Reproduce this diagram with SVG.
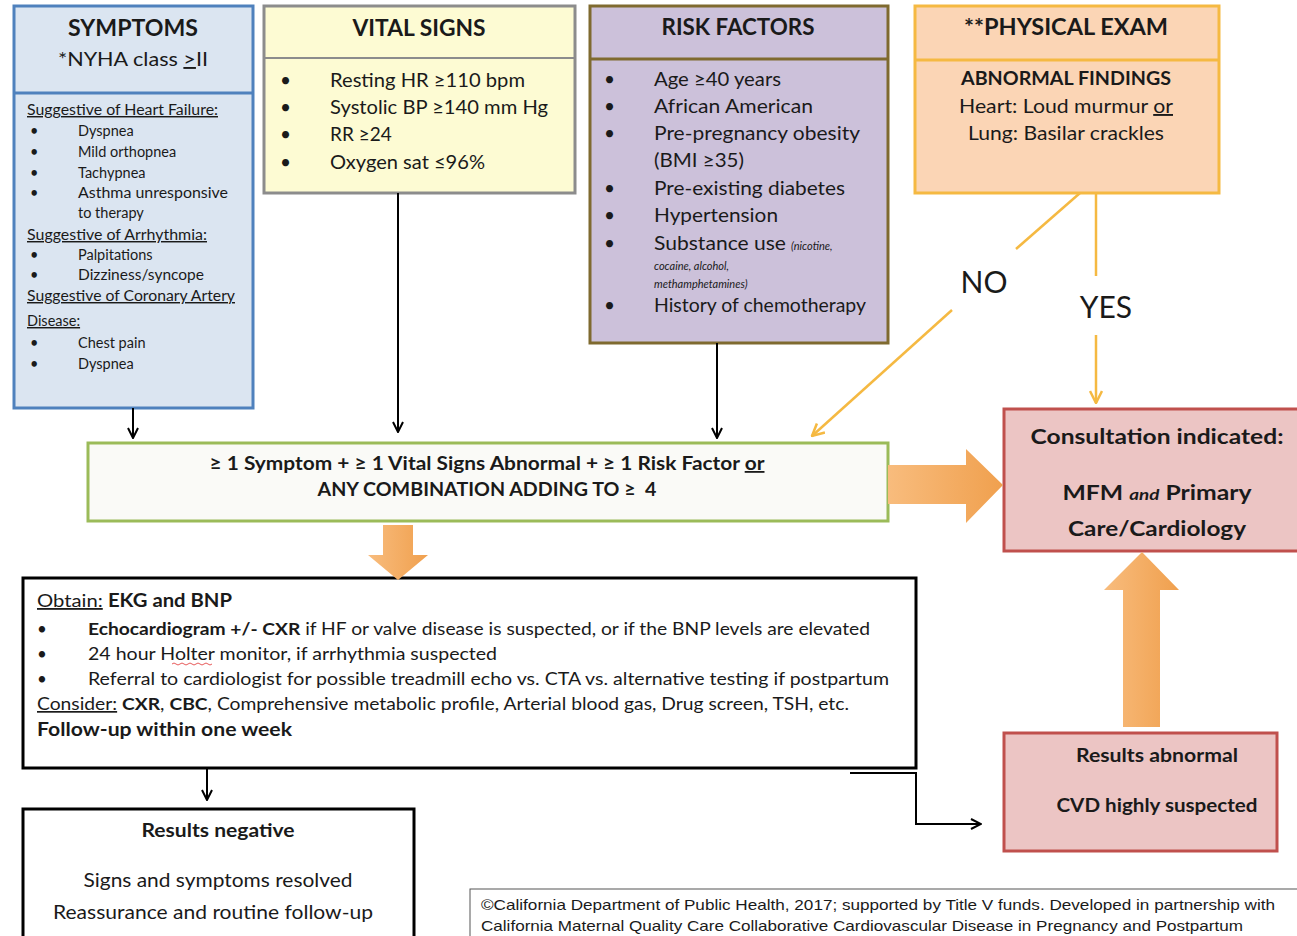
<svg xmlns="http://www.w3.org/2000/svg" width="1297" height="936" viewBox="0 0 1297 936">
<style>
text{font-family:Lato,"Open Sans","Liberation Sans",sans-serif;fill:#1a1a1a}
text.ar{font-family:"Liberation Sans",Arial,sans-serif;font-size:14.5px}
.b{font-weight:bold}
.u{text-decoration:underline}
.t{font-size:22px;font-weight:bold;text-anchor:middle}
.s{font-size:14.5px}
.v{font-size:19px}
.m{font-size:17px}
.c{text-anchor:middle}
.ln{fill:none;stroke:#000;stroke-width:2}
.yl{fill:none;stroke:#f5b942;stroke-width:2.5}
</style>
<defs>
<marker id="ab" viewBox="0 0 12 12" refX="11" refY="6" markerWidth="12" markerHeight="12" markerUnits="userSpaceOnUse" orient="auto"><path d="M1,1 L11,6 L1,11" fill="none" stroke="#000" stroke-width="2"/></marker>
<marker id="ay" viewBox="0 0 14 14" refX="13" refY="7" markerWidth="14" markerHeight="14" markerUnits="userSpaceOnUse" orient="auto"><path d="M1,1 L13,7 L1,13" fill="none" stroke="#f5b942" stroke-width="2.5"/></marker>
<linearGradient id="og" x1="0" y1="0" x2="1" y2="0"><stop offset="0" stop-color="#f8bc7d"/><stop offset="1" stop-color="#f0a04e"/></linearGradient>
</defs>

<g id="symptoms">
<rect x="14" y="6" width="239" height="402" fill="#dbe5f1" stroke="#4f81bd" stroke-width="3"/>
<line x1="14" y1="93" x2="253" y2="93" stroke="#4f81bd" stroke-width="3"/>
<text x="133" y="36" class="t" textLength="130" lengthAdjust="spacingAndGlyphs">SYMPTOMS</text>
<text x="133" y="66" class="c" font-size="19" textLength="150" lengthAdjust="spacingAndGlyphs">*NYHA class  <tspan class="u">&gt;</tspan>II</text>
<text x="27" y="115" class="s u" textLength="191" lengthAdjust="spacingAndGlyphs">Suggestive of Heart Failure:</text>
<text x="30" y="136" class="s">•</text><text x="78" y="136" class="s">Dyspnea</text>
<text x="30" y="157" class="s">•</text><text x="78" y="157" class="s">Mild orthopnea</text>
<text x="30" y="178" class="s">•</text><text x="78" y="178" class="s">Tachypnea</text>
<text x="30" y="198" class="s">•</text><text x="78" y="198" class="s" textLength="150" lengthAdjust="spacingAndGlyphs">Asthma unresponsive</text>
<text x="78" y="218" class="s">to therapy</text>
<text x="27" y="240" class="s u" textLength="180" lengthAdjust="spacingAndGlyphs">Suggestive of Arrhythmia:</text>
<text x="30" y="260" class="s">•</text><text x="78" y="260" class="s">Palpitations</text>
<text x="30" y="280" class="s">•</text><text x="78" y="280" class="s" textLength="126" lengthAdjust="spacingAndGlyphs">Dizziness/syncope</text>
<text x="27" y="301" class="s u" textLength="208" lengthAdjust="spacingAndGlyphs">Suggestive of Coronary Artery</text>
<text x="27" y="326" class="s u">Disease:</text>
<text x="30" y="348" class="s">•</text><text x="78" y="348" class="s">Chest pain</text>
<text x="30" y="369" class="s">•</text><text x="78" y="369" class="s">Dyspnea</text>
</g>

<g id="vital-signs">
<rect x="264" y="6" width="311" height="187" fill="#fdfbd3" stroke="#8c8c8c" stroke-width="3"/>
<line x1="264" y1="58" x2="575" y2="58" stroke="#8c8c8c" stroke-width="2"/>
<text x="419" y="36" class="t" textLength="133" lengthAdjust="spacingAndGlyphs">VITAL SIGNS</text>
<text x="280" y="87" class="v">•</text><text x="330" y="87" class="v" textLength="195" lengthAdjust="spacingAndGlyphs">Resting HR ≥110 bpm</text>
<text x="280" y="114" class="v">•</text><text x="330" y="114" class="v" textLength="218" lengthAdjust="spacingAndGlyphs">Systolic BP ≥140 mm Hg</text>
<text x="280" y="141" class="v">•</text><text x="330" y="141" class="v">RR ≥24</text>
<text x="280" y="169" class="v">•</text><text x="330" y="169" class="v" textLength="155" lengthAdjust="spacingAndGlyphs">Oxygen sat ≤96%</text>
</g>

<g id="risk-factors">
<rect x="590" y="6" width="298" height="337" fill="#ccc1da" stroke="#7f6a2f" stroke-width="3"/>
<line x1="590" y1="59" x2="888" y2="59" stroke="#7f6a2f" stroke-width="3"/>
<text x="738" y="35" class="t" textLength="153" lengthAdjust="spacingAndGlyphs">RISK FACTORS</text>
<text x="604" y="86" class="v">•</text><text x="654" y="86" class="v" textLength="127" lengthAdjust="spacingAndGlyphs">Age ≥40 years</text>
<text x="604" y="113" class="v">•</text><text x="654" y="113" class="v" textLength="159" lengthAdjust="spacingAndGlyphs">African American</text>
<text x="604" y="140" class="v">•</text><text x="654" y="140" class="v" textLength="206" lengthAdjust="spacingAndGlyphs">Pre-pregnancy obesity</text>
<text x="654" y="167" class="v" textLength="90" lengthAdjust="spacingAndGlyphs">(BMI ≥35)</text>
<text x="604" y="195" class="v">•</text><text x="654" y="195" class="v" textLength="191" lengthAdjust="spacingAndGlyphs">Pre-existing diabetes</text>
<text x="604" y="222" class="v">•</text><text x="654" y="222" class="v" textLength="124" lengthAdjust="spacingAndGlyphs">Hypertension</text>
<text x="604" y="250" class="v">•</text><text x="654" y="250" class="v" textLength="132" lengthAdjust="spacingAndGlyphs">Substance use</text>
<text x="791" y="250" font-size="11" font-style="italic">(nicotine,</text>
<text x="654" y="270" font-size="11" font-style="italic">cocaine, alcohol,</text>
<text x="654" y="288" font-size="11" font-style="italic">methamphetamines)</text>
<text x="604" y="312" class="v">•</text><text x="654" y="312" class="v" textLength="212" lengthAdjust="spacingAndGlyphs">History of chemotherapy</text>
</g>

<g id="physical-exam">
<rect x="915" y="6" width="304" height="187" fill="#fbd5b5" stroke="#f5b942" stroke-width="3"/>
<line x1="915" y1="60" x2="1219" y2="60" stroke="#f5b942" stroke-width="3"/>
<text x="1066" y="35" class="t" textLength="204" lengthAdjust="spacingAndGlyphs">**PHYSICAL EXAM</text>
<text x="1066" y="85" class="c b" font-size="18" textLength="210" lengthAdjust="spacingAndGlyphs">ABNORMAL FINDINGS</text>
<text x="1066" y="113" class="c" font-size="19" textLength="214" lengthAdjust="spacingAndGlyphs">Heart: Loud murmur <tspan class="u">or</tspan></text>
<text x="1066" y="140" class="c" font-size="19" textLength="196" lengthAdjust="spacingAndGlyphs">Lung: Basilar crackles</text>
</g>

<g id="criteria">
<rect x="88" y="443" width="800" height="78" fill="#fafaf7" stroke="#9bbb59" stroke-width="3"/>
<text x="487" y="470" class="c b" font-size="18" textLength="555" lengthAdjust="spacingAndGlyphs">≥ 1 Symptom + ≥ 1 Vital Signs Abnormal + ≥ 1 Risk Factor <tspan class="u">or</tspan></text>
<text x="487" y="496" class="c b" font-size="18" textLength="339" lengthAdjust="spacingAndGlyphs" xml:space="preserve">ANY COMBINATION ADDING TO ≥  4</text>
</g>

<g id="consultation">
<rect x="1004" y="409" width="296" height="142" fill="#ecc5c4" stroke="#c0504d" stroke-width="3"/>
<text x="1157" y="444" class="c b" font-size="21" textLength="253" lengthAdjust="spacingAndGlyphs">Consultation indicated:</text>
<text x="1157" y="500" class="c b" font-size="21" textLength="189" lengthAdjust="spacingAndGlyphs">MFM <tspan font-style="italic" font-size="16">and</tspan> Primary</text>
<text x="1157" y="536" class="c b" font-size="21" textLength="178" lengthAdjust="spacingAndGlyphs">Care/Cardiology</text>
</g>

<g id="obtain">
<rect x="23" y="578" width="893" height="190" fill="#fff" stroke="#000" stroke-width="3"/>
<text x="37" y="607" font-size="18" textLength="195" lengthAdjust="spacingAndGlyphs"><tspan class="u">Obtain:</tspan> <tspan class="b">EKG and BNP</tspan></text>
<text x="37" y="635" class="m">•</text><text x="88" y="635" class="m" textLength="782" lengthAdjust="spacingAndGlyphs"><tspan class="b">Echocardiogram +/- CXR</tspan> if HF or valve disease is suspected, or if the BNP levels are elevated</text>
<text x="37" y="660" class="m">•</text><text x="88" y="660" class="m" textLength="409" lengthAdjust="spacingAndGlyphs">24 hour Holter monitor, if arrhythmia suspected</text>
<path d="M172,664 q2,-2 4,0 t4,0 t4,0 t4,0 t4,0 t4,0 t4,0 t4,0 t4,0 t4,0" fill="none" stroke="#e03030" stroke-width="0.8"/>
<text x="37" y="685" class="m">•</text><text x="88" y="685" class="m" textLength="801" lengthAdjust="spacingAndGlyphs">Referral to cardiologist for possible treadmill echo vs. CTA vs. alternative testing if postpartum</text>
<text x="37" y="710" class="m" textLength="812" lengthAdjust="spacingAndGlyphs"><tspan class="u">Consider:</tspan> <tspan class="b">CXR</tspan>, <tspan class="b">CBC</tspan>, Comprehensive metabolic profile, Arterial blood gas, Drug screen, TSH, etc.</text>
<text x="37" y="736" class="b" font-size="18" textLength="255" lengthAdjust="spacingAndGlyphs">Follow-up within one week</text>
</g>

<g id="results-abnormal">
<rect x="1004" y="733" width="273" height="118" fill="#ecc5c4" stroke="#c0504d" stroke-width="3"/>
<text x="1157" y="762" class="c b" font-size="18" textLength="162" lengthAdjust="spacingAndGlyphs">Results abnormal</text>
<text x="1157" y="812" class="c b" font-size="18" textLength="201" lengthAdjust="spacingAndGlyphs">CVD highly suspected</text>
</g>

<g id="results-negative">
<rect x="23" y="809" width="391" height="140" fill="#fff" stroke="#000" stroke-width="3"/>
<text x="218" y="837" class="c b" font-size="18" textLength="153" lengthAdjust="spacingAndGlyphs">Results negative</text>
<text x="218" y="887" class="c" font-size="19" textLength="269" lengthAdjust="spacingAndGlyphs">Signs and symptoms resolved</text>
<text x="213" y="919" class="c" font-size="19" textLength="320" lengthAdjust="spacingAndGlyphs">Reassurance and routine follow-up</text>
</g>

<g id="footer">
<rect x="470" y="889" width="835" height="60" fill="#fff" stroke="#555" stroke-width="1"/>
<text x="481" y="910" class="ar" textLength="794" lengthAdjust="spacingAndGlyphs">©California Department of Public Health, 2017; supported by Title V funds. Developed in partnership with</text>
<text x="481" y="931" class="ar" textLength="762" lengthAdjust="spacingAndGlyphs">California Maternal Quality Care Collaborative Cardiovascular Disease in Pregnancy and Postpartum</text>
</g>

<g id="connectors">
<line x1="133" y1="408" x2="133" y2="438" class="ln" marker-end="url(#ab)"/>
<line x1="398" y1="193" x2="398" y2="432" class="ln" marker-end="url(#ab)"/>
<line x1="717" y1="343" x2="717" y2="438" class="ln" marker-end="url(#ab)"/>
<line x1="207" y1="768" x2="207" y2="800" class="ln" marker-end="url(#ab)"/>
<polyline points="850,773 916,773 916,824 981,824" class="ln" marker-end="url(#ab)"/>
<line x1="1080" y1="193" x2="1016" y2="249" class="yl"/>
<line x1="952" y1="310" x2="812" y2="436" class="yl" marker-end="url(#ay)"/>
<line x1="1096" y1="193" x2="1096" y2="276" class="yl"/>
<line x1="1096" y1="335" x2="1096" y2="403" class="yl" marker-end="url(#ay)"/>
<text x="984" y="293" class="c" font-size="30">NO</text>
<text x="1106" y="318" class="c" font-size="30">YES</text>
<path d="M888,465 L966,465 L966,449 L1003,485 L966,523 L966,504 L888,504 Z" fill="url(#og)"/>
<path d="M383,525 L413,525 L413,555 L428,555 L398,580 L368,555 L383,555 Z" fill="url(#og)"/>
<path d="M1123,727 L1123,590 L1104,590 L1142,552 L1179,590 L1160,590 L1160,727 Z" fill="url(#og)"/>
</g>
</svg>
